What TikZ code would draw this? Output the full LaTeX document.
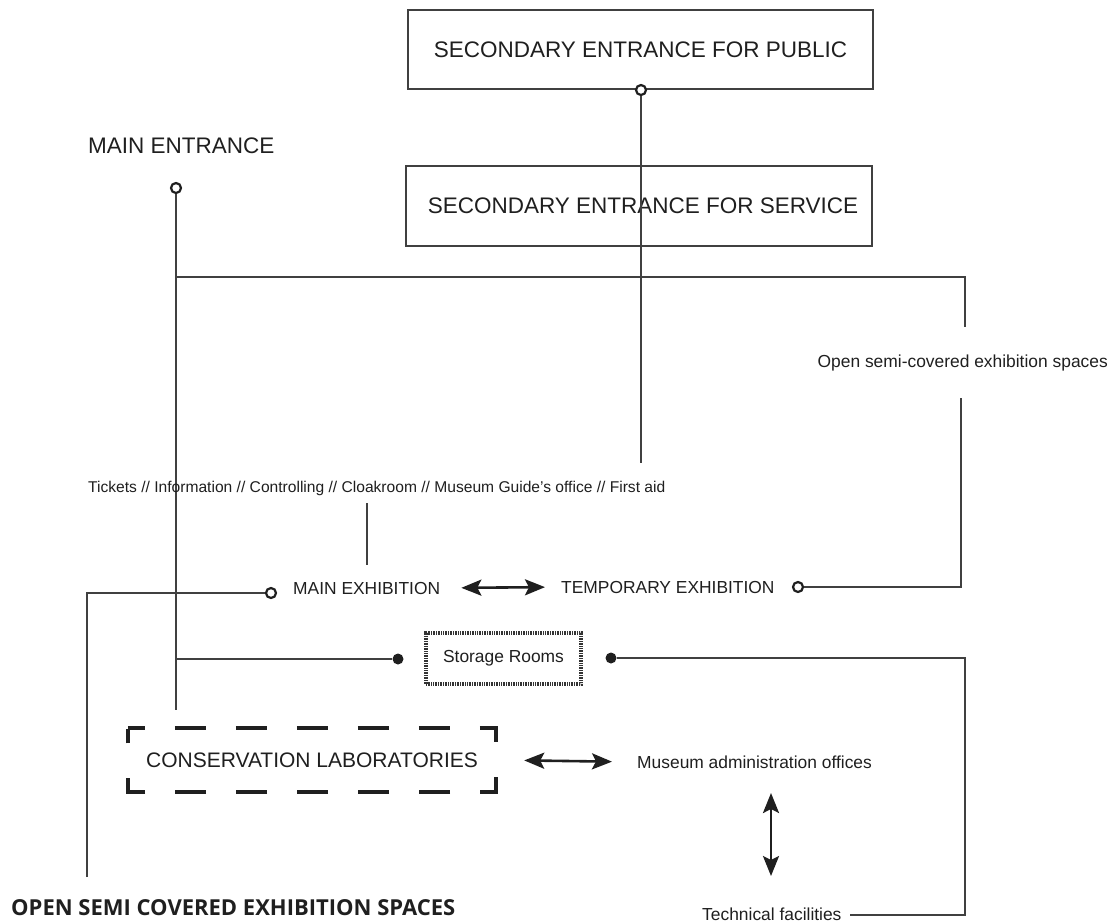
\documentclass[tikz,border=0pt]{standalone}
\usepackage{fontspec}
\setmainfont{Liberation Sans}
\newfontfamily\boldsans{Open Sans}
\usetikzlibrary{arrows.meta}
\tikzset{
  conn/.style={draw=black!75, line width=1.8pt},
  framebox/.style={draw=black!75, line width=2pt, rectangle, inner sep=0pt},
  bigtext/.style={font=\fontsize{22.5pt}{26pt}\selectfont, text=black!88, inner sep=0pt},
  midtext/.style={font=\fontsize{21pt}{24pt}\selectfont, text=black!88, inner sep=0pt},
  smalltext/.style={font=\fontsize{17.4pt}{20pt}\selectfont, text=black!88, inner sep=0pt},
  ticktext/.style={font=\fontsize{15.6pt}{18pt}\selectfont, text=black!88, inner sep=0pt},
  opendot/.style={circle, draw=black!88, line width=2.2pt, fill=white, minimum size=10pt, inner sep=0pt},
  fulldot/.style={circle, fill=black!88, minimum size=11pt, inner sep=0pt},
  dblarrow/.style={line width=2.6pt, draw=black!88, fill=black!88,
    arrows={Stealth[length=20pt,width=16pt,inset=4pt]-Stealth[length=20pt,width=16pt,inset=4pt]}},
  storebox/.style={rectangle, draw=black!80, line width=3.5pt, dash pattern=on 0.8pt off 0.9pt, inner sep=0pt},
}
\begin{document}
\begin{tikzpicture}[x=1pt,y=-1pt]
\useasboundingbox (0,0) rectangle (1111,922);

% top boxes
\node[framebox, minimum width=465pt, minimum height=79pt, bigtext] (pub) at (640.5,49.5) {SECONDARY ENTRANCE FOR PUBLIC};
\node[opendot] (pubc) at (641,90) {};
\coordinate (pubbot) at (641,463);

\node[framebox, minimum width=466pt, minimum height=80pt, bigtext] (svc) at (639,206) {\hspace*{8pt}SECONDARY ENTRANCE FOR SERVICE};
\draw[conn] (pubc) -- (pubbot);

% main entrance
\node[bigtext, anchor=west] (me) at (88,146) {MAIN ENTRANCE};
\node[opendot] (mec) at (176,188) {};
\coordinate (mebot) at (176,710);
\draw[conn] (mec) -- (mebot);

% top horizontal line
\coordinate (h1l) at (176,277);
\coordinate (h1r) at (965,277);
\coordinate (h1d) at (965,327);
\draw[conn] (h1l) -- (h1r) -- (h1d);

\node[smalltext, anchor=east] (osc) at (1108,363) {Open semi-covered exhibition spaces};
\coordinate (osc2) at (961,398);
\coordinate (tecr) at (961,587);

% tickets
\node[ticktext, anchor=west] (tix) at (88,488) {Tickets // Information // Controlling // Cloakroom // Museum Guide’s office // First aid};
\coordinate (tixa) at (367,503);
\coordinate (tixb) at (367,565);
\draw[conn] (tixa) -- (tixb);

% exhibitions
\node[smalltext, anchor=west] (mex) at (293,588) {MAIN EXHIBITION};
\node[opendot] (mexc) at (271,593) {};
\node[smalltext, anchor=west] (tex) at (561,587) {TEMPORARY EXHIBITION};
\node[opendot] (texc) at (798,587) {};
\coordinate (lcorner) at (87,593);
\coordinate (lbot) at (87,877);
\draw[conn] (lbot) -- (lcorner) -- (mexc);
\draw[conn] (texc) -- (tecr) -- (osc2);
\draw[dblarrow, shorten <=21pt, shorten >=16pt] (mex.east) -- (tex.west);

% storage
\node[storebox, minimum width=155pt, minimum height=51pt, smalltext] (sto) at (503.5,658.5) {Storage Rooms};
\node[fulldot] (stol) at (398,659) {};
\node[fulldot] (stor) at (611,658) {};
\coordinate (stoh) at (176,659);
\draw[conn] (stoh) -- (stol);
\coordinate (rc1) at (965,658);
\coordinate (rc2) at (965,915);

% conservation
\node[midtext, minimum width=368pt, minimum height=64pt] (cons) at (312,760) {CONSERVATION LABORATORIES};
\draw[draw=black!88, line width=4.5pt, line join=miter,
  dash pattern=on 17pt off 30pt on 31pt off 30pt on 31pt off 30pt on 31pt off 30pt on 31pt off 30pt on 31pt off 30pt on 31pt off 35pt on 31pt off 30pt on 31pt off 30pt on 31pt off 30pt on 31pt off 30pt on 31pt off 30pt on 31pt off 30pt on 31pt off 35pt on 14pt]
  (cons.north west) -- (cons.north east) -- (cons.south east) -- (cons.south west) -- cycle;

\node[smalltext, anchor=west] (adm) at (637,762) {Museum administration offices};
\draw[dblarrow, shorten <=28pt, shorten >=25pt] (cons.east) -- (adm.west);

\node[smalltext, anchor=base west] (tech) at (702,920) {Technical facilities};
\coordinate (va) at (771,793);
\coordinate (vb) at (771,876);
\draw[dblarrow] (va) -- (vb);
\draw[conn] (stor) -- (rc1) -- (rc2) -- ([xshift=8pt]tech.east |- rc2);

% bottom bold label
\node[font=\boldsans\bfseries\fontsize{22pt}{25pt}\selectfont, text=black!88, anchor=base west, inner sep=0pt] (oscb) at (11,915) {OPEN SEMI COVERED EXHIBITION SPACES};
\end{tikzpicture}
\end{document}
